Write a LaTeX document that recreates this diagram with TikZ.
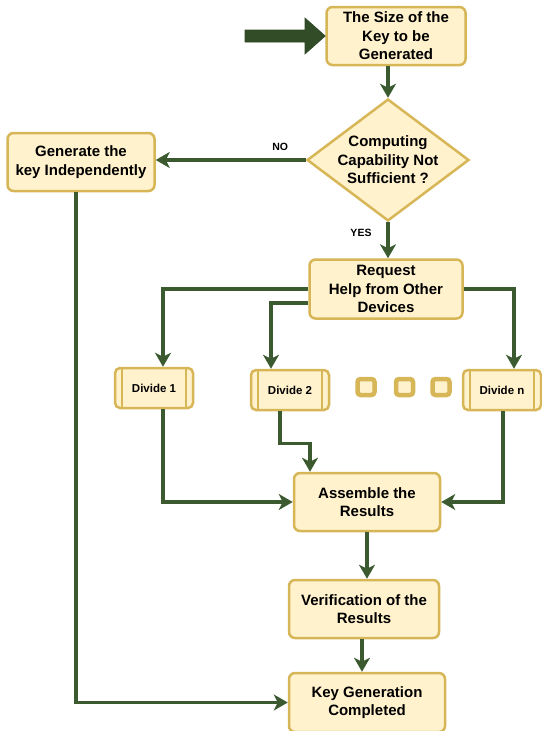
\documentclass[tikz,border=0pt]{standalone}
\usepackage{fontspec}
\setmainfont{Liberation Sans}
\usetikzlibrary{arrows.meta,shapes.geometric}
\definecolor{boxfill}{HTML}{FFF2CC}
\definecolor{boxline}{HTML}{D6B656}
\definecolor{flowgreen}{HTML}{3B5A2F}
\begin{document}
\begin{tikzpicture}[x=1pt, y=-1pt,
		box/.style={draw=boxline, fill=boxfill, line width=2.5pt, rounded corners=6pt, align=center,
			inner sep=0pt, minimum height=58pt, font=\fontsize{15}{18.5}\selectfont\bfseries},
		divbox/.style={box, rounded corners=5pt, minimum width=78pt, minimum height=40pt,
			font=\fontsize{11.5}{13}\selectfont\bfseries},
		dot/.style={draw=boxline, fill=boxfill, line width=4.5pt, rounded corners=3pt,
			minimum width=17pt, minimum height=16pt, inner sep=0pt},
		tag/.style={font=\fontsize{10.5}{12}\selectfont\bfseries},
		flow/.style={draw=flowgreen, line width=3.5pt, -{Stealth[length=14pt, width=16pt, inset=4pt]}},
		wire/.style={draw=flowgreen, line width=3.5pt}]
		\useasboundingbox (0, 0) rectangle (541, 731);
		%boxes
		\node[box, minimum width=139pt] (size) at (396, 36) {The Size of the\\Key to be\\Generated};
		\node[diamond, draw=boxline, fill=boxfill, line width=2.5pt, minimum width=162pt,
			minimum height=122pt, inner sep=0pt] (dia) at (388, 160) {};
		\node[box, draw=none, fill=none] (ask) at (dia) {Computing\\Capability Not\\Sufficient ?};
		\node[box, minimum width=147pt] (gen) at (81, 162) {Generate the\\key Independently};
		\node[box, minimum width=153pt, minimum height=59pt] (req) at (386, 289) {Request\\Help from Other\\Devices};
		\node[divbox] (div1) at (154, 388) {Divide 1};
		\node[divbox] (div2) at (290, 390) {Divide 2};
		\node[divbox] (divn) at (502, 390) {Divide n};
		\foreach \n in {div1, div2, divn}{
			\draw[boxline, line width=2pt] ([xshift=8pt]\n.north west) -- ([xshift=8pt]\n.south west);
			\draw[boxline, line width=2pt] ([xshift=-8pt]\n.north east) -- ([xshift=-8pt]\n.south east);
		}
		\foreach \x [count=\i] in {366, 404.5, 441}
			\node[dot] (dot\i) at (\x, 387) {};
		\node[box, minimum width=146pt] (asm) at (367, 502) {Assemble the\\Results};
		\node[box, minimum width=150pt] (ver) at (364, 609) {Verification of the\\Results};
		\node[box, minimum width=156pt, minimum height=59pt] (done) at (367, 702.5) {Key Generation\\Completed};
		%input arrow
		\shade[top color=flowgreen!85!black, middle color=flowgreen!75!white, bottom color=flowgreen!85!black,
			draw=flowgreen!80!black, line width=0.6pt]
			(245, 30) -- (305, 30) -- (305, 18) -- (size.west) -- (305, 54) -- (305, 42) -- (245, 42) -- cycle;
		%connectors
		\draw[flow] (size.south -| dia.north) -- (dia.north);
		\draw[flow] (dia.west) -- (dia.west -| gen.east) node[tag, pos=0.17, yshift=13pt] {NO};
		\draw[flow] (dia.south) -- (req.north -| dia.south) node[tag, pos=0.3, xshift=-27pt] {YES};
		\draw[flow] (req.west) -| ([xshift=9pt]div1.north);
		\draw[flow] ([yshift=-14pt]req.west) -| ([xshift=-19pt]div2.north);
		\draw[flow] (req.east) -| ([xshift=12pt]divn.north);
		\draw[flow] ([xshift=9pt]div1.south) |- (asm.west);
		\draw[flow] ([xshift=-10pt]div2.south) -- ++(0, 32) -| ([xshift=-57pt]asm.north);
		\draw[flow] ([xshift=1pt]divn.south) |- (asm.east);
		\draw[flow] (asm.south) -- (ver.north -| asm.south);
		\draw[flow] ([xshift=-2pt]ver.south) -- ([xshift=-5pt]done.north);
		\draw[flow] ([xshift=-5pt]gen.south) |- (done.west);
\end{tikzpicture}
\end{document}
